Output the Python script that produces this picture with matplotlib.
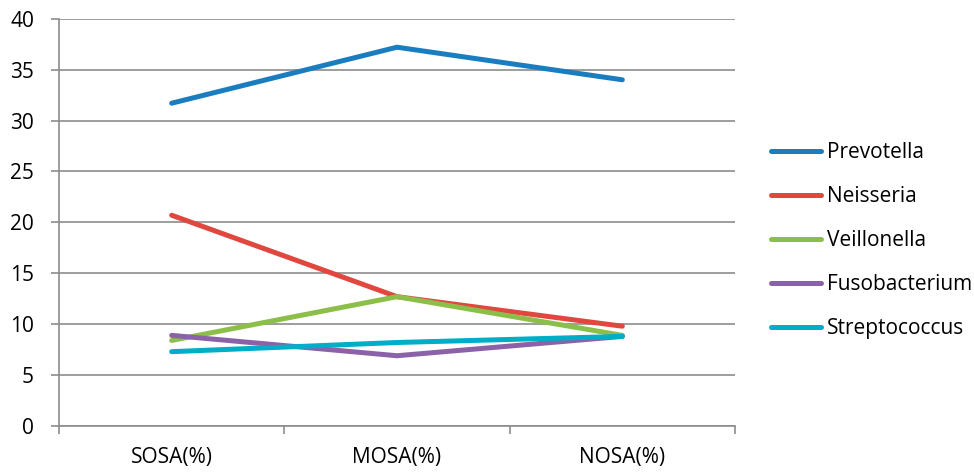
import matplotlib
matplotlib.use("Agg")
import matplotlib.pyplot as plt
from matplotlib.lines import Line2D

categories = ["SOSA(%)", "MOSA(%)", "NOSA(%)"]
prevotella = [31.7, 37.2, 34.0]
neisseria = [20.7, 12.7, 9.8]
veillonella = [8.4, 12.7, 8.9]
fusobacterium = [8.9, 6.9, 8.8]
streptococcus = [7.3, 8.2, 8.8]

series_names = ["Prevotella", "Neisseria", "Veillonella", "Fusobacterium", "Streptococcus"]
series_values = [prevotella, neisseria, veillonella, fusobacterium, streptococcus]
colors = ["#1a7dc0", "#e0483f", "#8cbf4a", "#8b62a8", "#00aec8"]

plt.rcParams["font.family"] = ["Open Sans", "DejaVu Sans"]
FS = 15

fig = plt.figure(figsize=(9.74, 4.72), dpi=100)
ax = fig.add_axes([59 / 974, 1 - 426 / 472, (735 - 59) / 974, (426 - 18.7) / 472])

x = list(range(len(categories)))
for name, vals, c in zip(series_names, series_values, colors):
    ax.plot(x, vals, color=c, lw=3.6, solid_capstyle="round", solid_joinstyle="round",
            label=name, zorder=3)

grid_c = "#8c8c8c"
ax.set_xlim(-0.5, 2.5)
ax.set_ylim(0, 40)
ax.set_yticks(range(0, 41, 5))
ax.yaxis.grid(True, color=grid_c, lw=1.2)
ax.set_axisbelow(True)

# category labels centred between boundary tick marks
ax.set_xticks([-0.5, 0.5, 1.5, 2.5])
ax.set_xticklabels([])
ax.set_xticks(x, minor=True)
ax.set_xticklabels(categories, minor=True, fontsize=FS)
ax.tick_params(axis="x", which="minor", length=0, pad=15)
ax.tick_params(axis="x", which="major", length=6, color=grid_c, width=1.2)
ax.tick_params(axis="y", length=6, color=grid_c, width=1.2, labelsize=FS, pad=12)

for s in ["top", "right"]:
    ax.spines[s].set_visible(False)
ax.spines["left"].set_color(grid_c)
ax.spines["left"].set_linewidth(1.2)
ax.spines["bottom"].set_color(grid_c)
ax.spines["bottom"].set_linewidth(1.2)

handles = [Line2D([0], [0], color=c, lw=3.6, solid_capstyle="round") for c in colors]
fig.legend(handles, series_names, loc="upper left", bbox_to_anchor=(763 / 974, 1 - 134 / 472),
           frameon=False, fontsize=FS, handlelength=2.4, handletextpad=0.25,
           labelspacing=1.1, borderaxespad=0)

fig.savefig("out.png", dpi=100)
